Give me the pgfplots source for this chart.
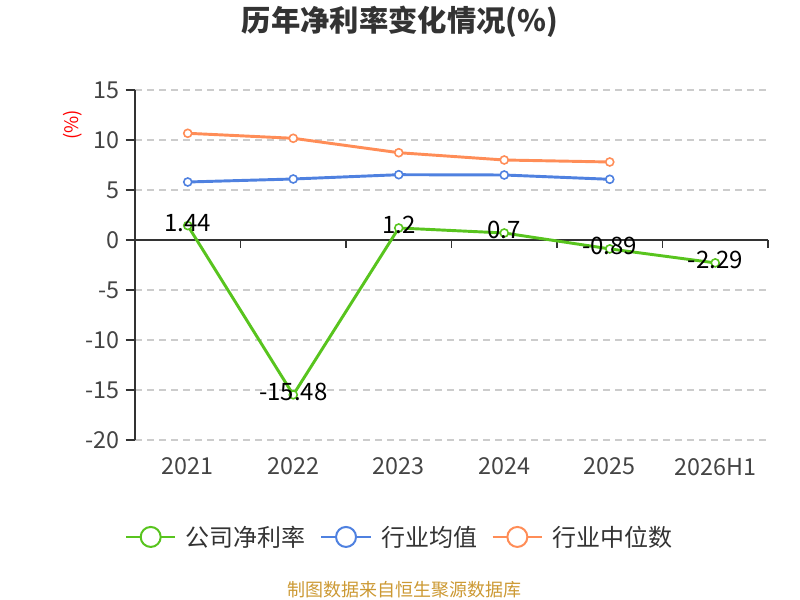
\documentclass[border=0pt]{standalone}
\usepackage{fontspec}
\setmainfont{Noto Sans CJK SC}
\usepackage{pgfplots}
\pgfplotsset{compat=1.18}
\definecolor{cgreen}{RGB}{88,196,30}
\definecolor{cblue}{RGB}{79,129,224}
\definecolor{corange}{RGB}{255,141,87}
\definecolor{axisc}{RGB}{51,51,51}
\definecolor{tickc}{RGB}{68,68,68}
\definecolor{gridc}{RGB}{204,204,204}
\definecolor{srcc}{RGB}{204,153,51}
\definecolor{titlec}{RGB}{51,51,51}
\begin{document}
\begin{tikzpicture}
\path[use as bounding box] (0,0) rectangle (600pt,450pt);
\begin{axis}[
  at={(101.25pt,120pt)}, anchor=south west, scale only axis,
  width=474.75pt, height=262.5pt,
  xmin=-0.5, xmax=5.5, ymin=-20, ymax=15,
  clip=false,
  axis lines*=left,
  x axis line style={draw=none},
  y axis line style={draw=axisc, line width=1.2pt},
  xtick={0,...,5}, xticklabels={2021,2022,2023,2024,2025,2026H1},
  xtick style={draw=none},
  ytick={-20,-15,...,15}, yticklabels={-20,-15,-10,-5,0,5,10,15},
  ytick style={draw=axisc, line width=1.2pt},
  tick align=outside, major tick length=7pt,
  ymajorgrids,
  grid style={gridc, line width=0.9pt, dash pattern=on 5pt off 4pt},
  tick label style={text=tickc, font=\fontsize{17.5}{20}\selectfont},
  xticklabel style={yshift=-3pt},
  yticklabel style={xshift=-1pt},
  legend columns=3,
  legend style={draw=none, fill=none, at={(0.4187,-0.277)}, anchor=center,
    font=\fontsize{18}{21}\selectfont, text=axisc,
    /tikz/every odd column/.append style={column sep=5pt},
    /tikz/every even column/.append style={column sep=9pt}},
  legend cell align=left,
]
\draw[axisc, line width=1.2pt] (axis cs:-0.5,0) -- (axis cs:5.5,0);
\pgfplotsinvokeforeach{-0.5,0.5,1.5,2.5,3.5,4.5,5.5}{
  \draw[axisc, line width=1.2pt] (axis cs:#1,0) -- ++(0pt,-6pt);
}
\addplot[cgreen, line width=2.2pt, mark=*, mark size=3pt,
  mark options={fill=white, line width=1.2pt},
  point meta=explicit symbolic,
  nodes near coords={\pgfplotspointmeta},
  every node near coord/.append style={anchor=center, yshift=2pt, text=black,
    font=\fontsize{18}{20}\selectfont},
  legend image code/.code={
    \draw[cgreen, line width=1.5pt] (0pt,0pt) -- (37pt,0pt);
    \draw[cgreen, line width=1.5pt, fill=white] (18.5pt,0pt) circle (7.5pt);}
] coordinates {
  (0,1.44) [1.44]
  (1,-15.48) [-15.48]
  (2,1.2) [1.2]
  (3,0.7) [0.7]
  (4,-0.89) [-0.89]
  (5,-2.29) [-2.29]
};
\addlegendentry{公司净利率}
\addplot[cblue, line width=2.2pt, mark=*, mark size=3pt,
  mark options={fill=white, line width=1.2pt},
  legend image code/.code={
    \draw[cblue, line width=1.5pt] (0pt,0pt) -- (37pt,0pt);
    \draw[cblue, line width=1.5pt, fill=white] (18.5pt,0pt) circle (7.5pt);}
] coordinates {
  (0,5.8) (1,6.1) (2,6.53) (3,6.5) (4,6.07)
};
\addlegendentry{行业均值}
\addplot[corange, line width=2.2pt, mark=*, mark size=3pt,
  mark options={fill=white, line width=1.2pt},
  legend image code/.code={
    \draw[corange, line width=1.5pt] (0pt,0pt) -- (37pt,0pt);
    \draw[corange, line width=1.5pt, fill=white] (18.5pt,0pt) circle (7.5pt);}
] coordinates {
  (0,10.67) (1,10.17) (2,8.73) (3,8.0) (4,7.8)
};
\addlegendentry{行业中位数}
\end{axis}
\node[font=\fontsize{22}{26}\selectfont\bfseries, text=titlec] at (300pt,433.5pt) {历年净利率变化情况(\%)};
\node[rotate=90, text=red, font=\fontsize{14}{16}\selectfont] at (54.75pt,356.25pt) {(\%)};
\node[text=srcc, font=\fontsize{13.5}{16}\selectfont] at (303pt,7.5pt) {制图数据来自恒生聚源数据库};
\end{tikzpicture}
\end{document}
